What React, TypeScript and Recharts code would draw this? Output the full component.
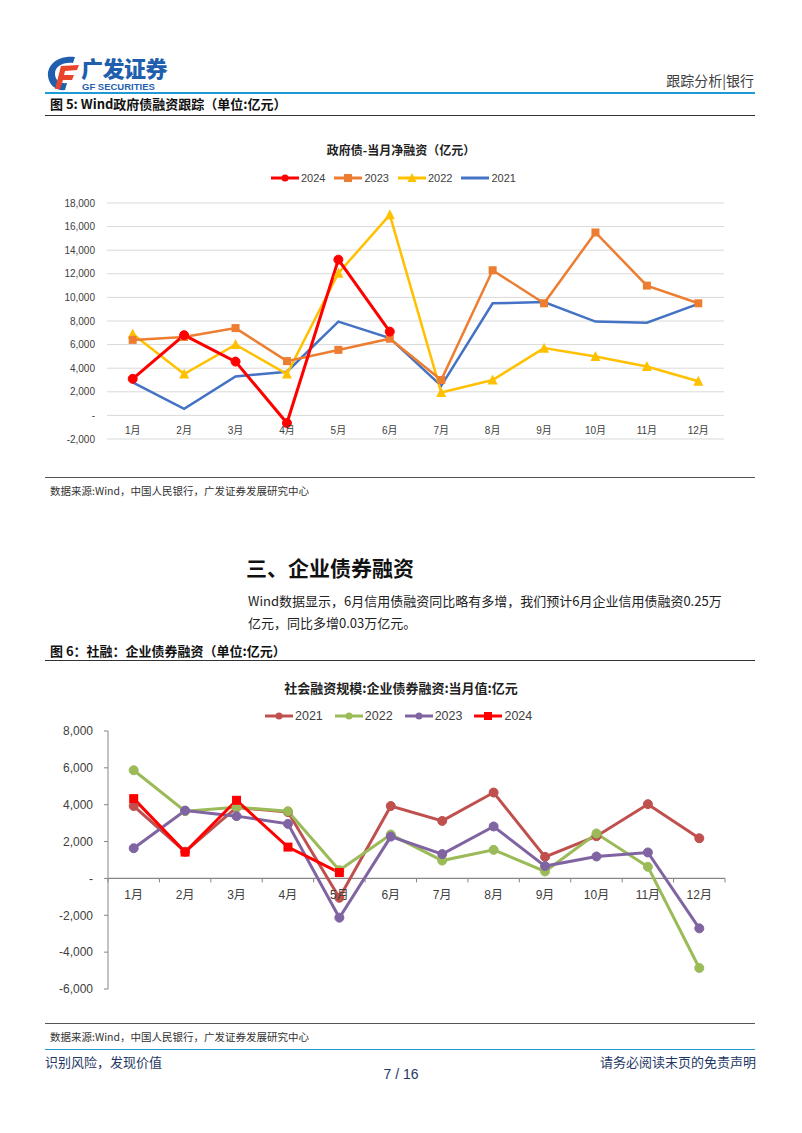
import React from "react";
import { LineChart, Line, XAxis, YAxis, CartesianGrid, ReferenceLine } from "recharts";

// 月份
const months = ["1月", "2月", "3月", "4月", "5月", "6月", "7月", "8月", "9月", "10月", "11月", "12月"];

// 图5 政府债-当月净融资（亿元）
const gov2024 = [3100, 6800, 4560, -650, 13200, 7100];
const gov2023 = [6400, 6650, 7400, 4600, 5550, 6500, 3000, 12300, 9500, 15500, 11000, 9500];
const gov2022 = [6900, 3500, 6000, 3500, 12050, 17000, 1950, 3000, 5700, 5000, 4150, 2900];
const gov2021 = [2800, 550, 3300, 3700, 7950, 6550, 2500, 9500, 9600, 7950, 7850, 9450];
const govTicks = [-2000, 0, 2000, 4000, 6000, 8000, 10000, 12000, 14000, 16000, 18000];

// 图6 社融：企业债券融资（亿元）
const bond2021 = [3930, 1450, 3850, 3600, -1050, 3930, 3120, 4660, 1170, 2290, 4030, 2180];
const bond2022 = [5870, 3650, 3860, 3650, 450, 2380, 970, 1550, 380, 2440, 630, -4860];
const bond2023 = [1640, 3680, 3380, 2960, -2130, 2270, 1320, 2820, 670, 1190, 1410, -2710];
const bond2024 = [4330, 1430, 4240, 1700, 320];
const bondTicks = [-6000, -4000, -2000, 0, 2000, 4000, 6000, 8000];

const govData = months.map((m, i) => ({
  month: m,
  y2024: gov2024[i] ?? null,
  y2023: gov2023[i] ?? null,
  y2022: gov2022[i] ?? null,
  y2021: gov2021[i] ?? null,
}));

const bondData = months.map((m, i) => ({
  month: m,
  y2021: bond2021[i] ?? null,
  y2022: bond2022[i] ?? null,
  y2023: bond2023[i] ?? null,
  y2024: bond2024[i] ?? null,
}));

const C = {
  g24: "#FF0000",
  g23: "#ED7D31",
  g22: "#FFC000",
  g21: "#4472C4",
  b21: "#C0504D",
  b22: "#9BBB59",
  b23: "#8064A2",
  b24: "#FF0000",
};

const numFont = '"Liberation Sans", Arial, "Noto Sans CJK SC", sans-serif';
const cjkFont = '"Noto Sans CJK SC", "Liberation Sans", sans-serif';

const fmt = (v: number) => (v === 0 ? "-" : v.toLocaleString("en-US"));

const circleDot = (color: string, r: number) => (p: any) => {
  if (p.value == null || p.cy == null) return <g key={p.index} />;
  return <circle key={p.index} cx={p.cx} cy={p.cy} r={r} fill={color} stroke={color} />;
};
const squareDot = (color: string, s: number) => (p: any) => {
  if (p.value == null || p.cy == null) return <g key={p.index} />;
  return <rect key={p.index} x={p.cx - s / 2} y={p.cy - s / 2} width={s} height={s} fill={color} />;
};
const triDot = (color: string, s: number) => (p: any) => {
  if (p.value == null || p.cy == null) return <g key={p.index} />;
  const h = s * 0.9;
  return (
    <polygon
      key={p.index}
      points={`${p.cx},${p.cy - h / 2 - 1} ${p.cx - s / 2},${p.cy + h / 2} ${p.cx + s / 2},${p.cy + h / 2}`}
      fill={color}
    />
  );
};

const GovTick = (props: any) => {
  const { x, y, payload } = props;
  return (
    <text x={x} y={y - 5} textAnchor="middle" fontSize={10} fill="#404040" fontFamily={numFont}>
      {payload.value}
    </text>
  );
};

// 零轴在 -6000 之上 6000/14000 的位置
const BondTick = (props: any) => {
  const { x, y, payload, index } = props;
  const zeroY = y - 258 * (6000 / 14000);
  const half = 617 / 24;
  return (
    <g>
      <line x1={x - half} x2={x - half} y1={zeroY} y2={zeroY + 4} stroke="#868686" />
      {index === months.length - 1 && (
        <line x1={x + half} x2={x + half} y1={zeroY} y2={zeroY + 4} stroke="#868686" />
      )}
      <text x={x} y={zeroY + 21} textAnchor="middle" fontSize={12} fill="#404040" fontFamily={numFont}>
        {payload.value}
      </text>
    </g>
  );
};

type LegendItem = { label: string; color: string; marker: "circle" | "square" | "triangle" | "none" };

const LegendRow = ({ items, left, top, fontSize, gap }: { items: LegendItem[]; left: number; top: number; fontSize: number; gap: number }) => (
  <div style={{ position: "absolute", left, top, display: "flex", alignItems: "center", gap, fontFamily: numFont, fontSize, color: "#404040" }}>
    {items.map((it) => (
      <div key={it.label} style={{ display: "flex", alignItems: "center", gap: 2 }}>
        <svg width={28} height={12}>
          <line x1={0} x2={28} y1={6} y2={6} stroke={it.color} strokeWidth={3} />
          {it.marker === "circle" && <circle cx={14} cy={6} r={3.5} fill={it.color} />}
          {it.marker === "square" && <rect x={10} y={2} width={8} height={8} fill={it.color} />}
          {it.marker === "triangle" && <polygon points="14,1 9.5,10 18.5,10" fill={it.color} />}
        </svg>
        <span>{it.label}</span>
      </div>
    ))}
  </div>
);

const Logo = () => (
  <div style={{ position: "absolute", left: 45, top: 54 }}>
    <svg width={36} height={38} style={{ position: "absolute", left: 0, top: 0 }}>
      <path d="M30 3 C14 1 2 10 3 22 C4 32 12 37 20 36 L22 29 C14 30 10 25 10 20 C10 12 18 8 28 9 Z" fill="#1F5FAE" />
      <path d="M16 12 L34 11 L32 16 L20 17 L19 21 L29 21 L27 26 L18 26 L15 35 L10 35 Z" fill="#E8452C" />
    </svg>
    <div style={{ position: "absolute", left: 36, top: 1, lineHeight: "24px", fontFamily: cjkFont, fontWeight: 900, fontSize: 22, color: "#1F5FAE", whiteSpace: "nowrap", letterSpacing: -0.5 }}>
      广发证券
    </div>
    <div style={{ position: "absolute", left: 37, top: 28, lineHeight: "10px", fontFamily: numFont, fontWeight: 700, fontSize: 9.5, color: "#1F5FAE", whiteSpace: "nowrap" }}>
      GF SECURITIES
    </div>
  </div>
);

export default function App() {
  const txt: React.CSSProperties = { position: "absolute", whiteSpace: "nowrap", fontFamily: cjkFont };
  return (
    <div style={{ position: "absolute", left: 0, top: 0, width: 802, height: 1133, background: "#fff", overflow: "hidden" }}>
      <Logo />
      <div style={{ ...txt, right: 48, top: 70, fontSize: 14, color: "#404040" }}>跟踪分析|银行</div>
      <div style={{ position: "absolute", left: 45, top: 92, width: 710, height: 2, background: "#1E9BD7" }} />
      <div style={{ ...txt, left: 50, top: 94, fontSize: 13, fontWeight: 700, color: "#111" }}>图 5: Wind政府债融资跟踪（单位:亿元）</div>
      <div style={{ position: "absolute", left: 45, top: 115, width: 710, height: 1, background: "#333" }} />

      <div style={{ ...txt, left: 0, width: 802, textAlign: "center", top: 141, fontSize: 12, fontWeight: 700, color: "#222" }}>
        政府债-当月净融资（亿元）
      </div>
      <LegendRow
        left={271}
        top={172}
        fontSize={11}
        gap={9}
        items={[
          { label: "2024", color: C.g24, marker: "circle" },
          { label: "2023", color: C.g23, marker: "square" },
          { label: "2022", color: C.g22, marker: "triangle" },
          { label: "2021", color: C.g21, marker: "none" },
        ]}
      />

      <div style={{ position: "absolute", left: 40, top: 165 }}>
        <LineChart width={700} height={295} data={govData} margin={{ top: 38, right: 16, left: 10, bottom: 1 }}>
          <CartesianGrid vertical={false} stroke="#D9D9D9" />
          <XAxis dataKey="month" height={20} axisLine={false} tickLine={false} tickSize={0} tickMargin={0} interval={0} padding={{ left: 25.7, right: 25.7 }} tick={<GovTick />} />
          <YAxis width={57} domain={[-2000, 18000]} ticks={govTicks} interval={0} axisLine={false} tickLine={false} tickSize={0} tickMargin={12} tickFormatter={fmt} tick={{ fontSize: 10, fill: "#404040", fontFamily: numFont }} />
          <Line dataKey="y2021" stroke={C.g21} strokeWidth={2.5} dot={false} isAnimationActive={false} />
          <Line dataKey="y2022" stroke={C.g22} strokeWidth={2.5} dot={triDot(C.g22, 10)} isAnimationActive={false} />
          <Line dataKey="y2023" stroke={C.g23} strokeWidth={2.5} dot={squareDot(C.g23, 8)} isAnimationActive={false} />
          <Line dataKey="y2024" stroke={C.g24} strokeWidth={3} dot={circleDot(C.g24, 4.5)} isAnimationActive={false} />
        </LineChart>
      </div>

      <div style={{ position: "absolute", left: 45, top: 477, width: 710, height: 1, background: "#555" }} />
      <div style={{ ...txt, left: 50, top: 483, fontSize: 10.5, color: "#333" }}>数据来源:Wind，中国人民银行，广发证券发展研究中心</div>

      <div style={{ ...txt, left: 246, top: 552, fontSize: 21, fontWeight: 700, color: "#111" }}>三、企业债券融资</div>
      <div style={{ ...txt, left: 248, top: 590, fontSize: 13, color: "#222", lineHeight: "22px", whiteSpace: "normal", width: 520 }}>
        Wind数据显示，6月信用债融资同比略有多增，我们预计6月企业信用债融资0.25万
        <br />
        亿元，同比多增0.03万亿元。
      </div>

      <div style={{ ...txt, left: 50, top: 641, fontSize: 13, fontWeight: 700, color: "#111" }}>图 6：社融：企业债券融资（单位:亿元）</div>
      <div style={{ position: "absolute", left: 45, top: 660, width: 710, height: 1, background: "#333" }} />

      <div style={{ ...txt, left: 0, width: 802, textAlign: "center", top: 678, fontSize: 13, fontWeight: 700, color: "#222" }}>
        社会融资规模:企业债券融资:当月值:亿元
      </div>
      <LegendRow
        left={265}
        top={709}
        fontSize={12.5}
        gap={12}
        items={[
          { label: "2021", color: C.b21, marker: "circle" },
          { label: "2022", color: C.b22, marker: "circle" },
          { label: "2023", color: C.b23, marker: "circle" },
          { label: "2024", color: C.b24, marker: "square" },
        ]}
      />

      <div style={{ position: "absolute", left: 40, top: 700 }}>
        <LineChart width={700} height={310} data={bondData} margin={{ top: 31, right: 15, left: 11, bottom: 1 }}>
          <ReferenceLine y={0} stroke="#868686" strokeWidth={1.2} />
          <XAxis dataKey="month" height={20} axisLine={false} tickLine={false} tickSize={0} tickMargin={0} interval={0} padding={{ left: 25.7, right: 25.7 }} tick={<BondTick />} />
          <YAxis width={57} domain={[-6000, 8000]} ticks={bondTicks} interval={0} axisLine={{ stroke: "#868686" }} tickLine={{ stroke: "#868686" }} tickSize={4} tickMargin={11} tickFormatter={fmt} tick={{ fontSize: 12, fill: "#404040", fontFamily: numFont }} />
          <Line dataKey="y2021" stroke={C.b21} strokeWidth={3} dot={circleDot(C.b21, 4.5)} isAnimationActive={false} />
          <Line dataKey="y2022" stroke={C.b22} strokeWidth={3} dot={circleDot(C.b22, 4.5)} isAnimationActive={false} />
          <Line dataKey="y2023" stroke={C.b23} strokeWidth={3} dot={circleDot(C.b23, 4.5)} isAnimationActive={false} />
          <Line dataKey="y2024" stroke={C.b24} strokeWidth={3} dot={squareDot(C.b24, 9)} isAnimationActive={false} />
        </LineChart>
      </div>

      <div style={{ position: "absolute", left: 45, top: 1023, width: 710, height: 1, background: "#555" }} />
      <div style={{ ...txt, left: 50, top: 1029, fontSize: 10.5, color: "#333" }}>数据来源:Wind，中国人民银行，广发证券发展研究中心</div>

      <div style={{ position: "absolute", left: 45, top: 1049, width: 710, height: 1, background: "#1E9BD7" }} />
      <div style={{ ...txt, left: 45, top: 1052, fontSize: 13, color: "#1F3864" }}>识别风险，发现价值</div>
      <div style={{ ...txt, right: 46, top: 1052, fontSize: 13, color: "#1F3864" }}>请务必阅读末页的免责声明</div>
      <div style={{ ...txt, left: 0, width: 802, textAlign: "center", top: 1066, fontSize: 14, color: "#1F3864", fontFamily: numFont }}>7 / 16</div>
    </div>
  );
}
